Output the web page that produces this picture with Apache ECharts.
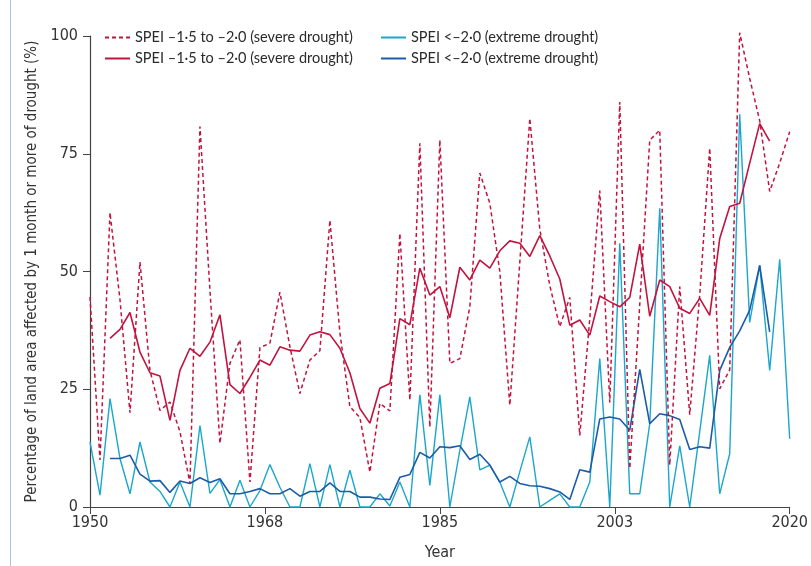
<!DOCTYPE html>
<html><head><meta charset="utf-8">
<script src="https://cdn.jsdelivr.net/npm/echarts@6/dist/echarts.min.js"></script>
<style>html,body{margin:0;padding:0;background:#fff}#chart{width:811px;height:566px}</style>
</head><body><div id="chart"></div>
<script>
const baseYear = 1950;
const years = [1950,1951,1952,1953,1954,1955,1956,1957,1958,1959,1960,1961,1962,1963,1964,1965,1966,1967,1968,1969,
  1970,1971,1972,1973,1974,1975,1976,1977,1978,1979,1980,1981,1982,1983,1984,1985,1986,1987,1988,1989,
  1990,1991,1992,1993,1994,1995,1996,1997,1998,1999,2000,2001,2002,2003,2004,2005,2006,2007,2008,2009,
  2010,2011,2012,2013,2014,2015,2016,2017,2018,2019,2020];
const maYears = years.slice(2, 69); // 1952-2018

// SPEI -1.5 to -2.0 (severe drought), annual (dashed), 1950-2020
const severeAnnual = [44.6,10,62.5,44,20,52,29,20.5,22.3,16,5,80.8,46,13.5,30.5,35.5,5.3,33.8,34.8,45.6,
  34,24.1,31.2,33.2,60.9,37,21.3,19,7.4,22,20.4,58.1,22.7,77.2,17,77.9,30.5,31.5,42.5,70.9,
  64.5,50,21.6,52,82.5,59,47,38.3,44.5,15.2,40,67.2,22.2,86,8.2,43,77.9,80,8.9,46.8,
  19.6,45,76.2,25.1,29.1,100.7,91,82,67,73,79.7];
// SPEI -1.5 to -2.0 (severe drought), smoothed (solid), 1952-2018
const severeSmooth = [35.8,37.7,41.3,32.9,28.5,27.8,18.4,29,33.7,32,35,40.8,26,24.1,27.5,31.2,30.1,34,33.3,33.1,
  36.5,37.2,36.6,33.7,28.5,20.9,17.8,25.2,26.2,40,38.7,50.7,45,46.8,40.2,50.9,48.2,52.4,50.7,54.4,
  56.5,56,53.2,57.6,53.3,48.4,38.6,39.7,36.5,44.8,43.6,42.5,44.5,55.8,40.5,48.2,46.8,42.2,41.1,44.3,
  40.7,57,63.8,64.5,73,81.4,77.7];
// SPEI < -2.0 (extreme drought), annual, 1950-2020
const extremeAnnual = [13.8,2.5,23,10.3,2.8,13.8,5.3,3.3,0,5.3,0,17.3,2.9,5.8,0,5.7,0,3.5,9,4.2,
  0,0,9.2,0,9,0,7.8,0,0,2.8,0.2,5.3,0,23.8,4.6,23.8,0,12,23.4,7.9,
  8.9,5.3,0,7.5,14.9,0,1.4,2.8,0,0,5.3,31.5,0,56,2.8,2.8,17.7,63.4,0,13,
  0,16,32.2,2.8,11.3,83.4,39.2,51.3,29,52.6,14.5];
// SPEI < -2.0 (extreme drought), smoothed, 1952-2018
const extremeSmooth = [10.3,10.3,11,7,5.5,5.6,3.1,5.5,5,6.2,5.2,6,2.8,2.8,3.3,3.9,2.8,2.8,3.9,2.3,
  3.3,3.3,5.1,3.3,3.3,2.1,2.1,1.7,1.6,6.3,6.9,11.6,10.4,12.8,12.6,13,10.1,11.2,8.9,5.3,
  6.5,5,4.5,4.4,3.9,3.2,1.6,7.9,7.4,18.7,19.1,18.7,16.3,29.2,17.7,19.8,19.4,18.6,12.2,12.8,
  12.5,29,33.9,37.4,41.8,51.3,37.2];

const xTicks = [1950,1968,1985,2003,2020];
const yTicks = [0,25,50,75,100];

const names = {
  sevA: 'SPEI –1·5 to –2·0 (severe drought)',
  sevS: 'SPEI –1·5 to –2·0 (severe drought)',
  extA: 'SPEI <–2·0 (extreme drought)',
  extS: 'SPEI <–2·0 (extreme drought)'
};
const RED = '#c0143f', LBLUE = '#1ba6cc', DBLUE = '#1c5ca6';
const toPairs = (ys, vs) => ys.map((y, i) => [y - baseYear, vs[i]]);
const tickFont = '"Liberation Sans Narrow", "DejaVu Sans Condensed", sans-serif';
const textFont = 'Lato, "Open Sans", sans-serif';

const chart = echarts.init(document.getElementById('chart'), null, {renderer: 'canvas'});
const legendCommon = {
  orient: 'vertical', top: 25, itemGap: 6, itemWidth: 25, itemHeight: 14,
  formatter: n => names[n],
  itemStyle: {opacity: 0},
  textStyle: {fontSize: 14.5, fontFamily: textFont, color: '#2a2a2a'}
};
chart.setOption({
  animation: false,
  graphic: [{type: 'line', shape: {x1: 10.5, y1: 0, x2: 10.5, y2: 566}, style: {stroke: '#a9c3de', lineWidth: 1}}],
  legend: [
    Object.assign({left: 99, data: ['sevA', 'sevS']}, legendCommon),
    Object.assign({left: 375, data: ['extA', 'extS']}, legendCommon)
  ],
  grid: {left: 90, right: 18, top: 36, bottom: 59, containLabel: false},
  xAxis: {
    type: 'value', min: 0, max: xTicks[xTicks.length-1] - baseYear, interval: 17.5,
    name: 'Year', nameLocation: 'middle', nameGap: 38,
    nameTextStyle: {fontSize: 16, fontFamily: tickFont, color: '#333'},
    axisLine: {lineStyle: {color: '#444', width: 1.2}},
    axisTick: {length: 7, lineStyle: {color: '#444'}},
    splitLine: {show: false},
    axisLabel: {fontSize: 16, fontFamily: tickFont, color: '#333', margin: 8,
      formatter: v => String(Math.round(baseYear + v))}
  },
  yAxis: {
    type: 'value', min: yTicks[0], max: yTicks[yTicks.length-1], interval: 25,
    name: 'Percentage of land area affected by 1 month or more of drought (%)',
    nameLocation: 'middle', nameGap: 50, nameRotate: 90,
    nameTextStyle: {fontSize: 15, fontFamily: tickFont, color: '#333'},
    axisLine: {show: true, lineStyle: {color: '#444', width: 1.2}},
    axisTick: {show: true, length: 7, lineStyle: {color: '#444'}},
    splitLine: {show: false},
    axisLabel: {fontSize: 16, fontFamily: tickFont, color: '#333', margin: 12}
  },
  series: [
    {id: 'extA', name: 'extA', type: 'line', symbol: 'none', clip: false, data: toPairs(years, extremeAnnual),
      lineStyle: {color: LBLUE, width: 1.4}, itemStyle: {color: LBLUE}},
    {id: 'extS', name: 'extS', type: 'line', symbol: 'none', clip: false, data: toPairs(maYears, extremeSmooth),
      lineStyle: {color: DBLUE, width: 1.6}, itemStyle: {color: DBLUE}},
    {id: 'sevA', name: 'sevA', type: 'line', symbol: 'none', clip: false, data: toPairs(years, severeAnnual),
      lineStyle: {color: RED, width: 1.5, type: [4, 3]}, itemStyle: {color: RED}},
    {id: 'sevS', name: 'sevS', type: 'line', symbol: 'none', clip: false, data: toPairs(maYears, severeSmooth),
      lineStyle: {color: RED, width: 1.6}, itemStyle: {color: RED}}
  ]
});
</script></body></html>
